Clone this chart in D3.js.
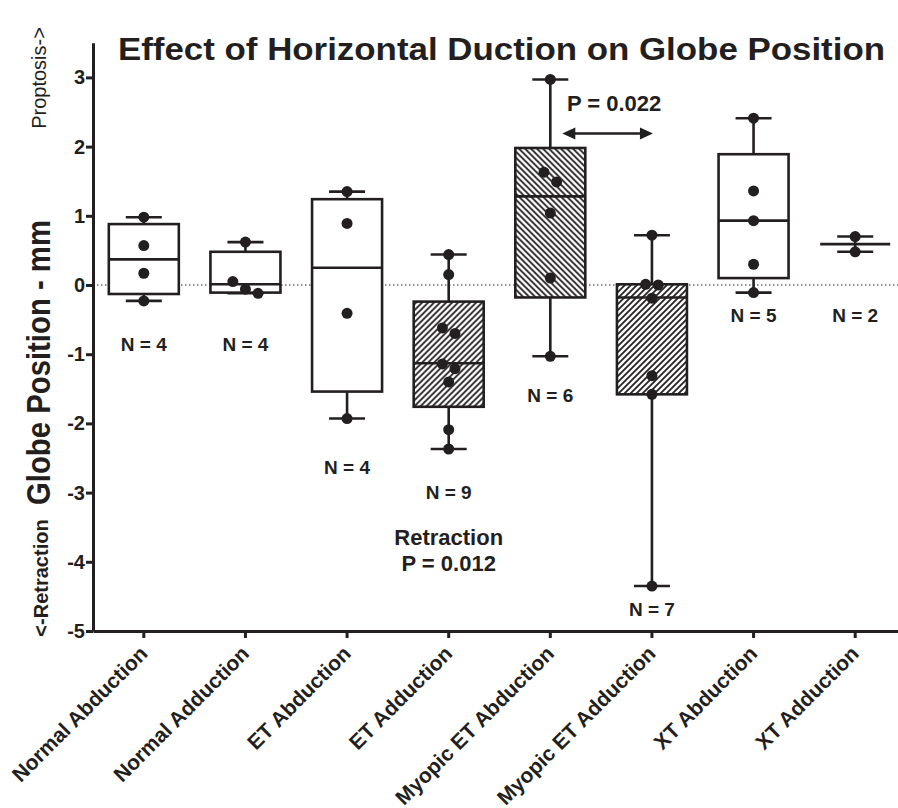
<!DOCTYPE html>
<html>
<head>
<meta charset="utf-8">
<script src="https://cdn.jsdelivr.net/npm/d3@7"></script>
<style>
  body { margin: 0; background: #fff; }
  text { font-family: "Liberation Sans", Arial, sans-serif; fill: #231f20; }
</style>
</head>
<body>
<div id="my_dataviz"></div>
<script>
// Data (mm)
var categories = ["Normal Abduction", "Normal Adduction", "ET Abduction", "ET Adduction",
                  "Myopic ET Abduction", "Myopic ET Adduction", "XT Abduction", "XT Adduction"];
var whiskerLow  = [-0.23, -0.12, -1.93, -2.37, -1.03, -4.35, -0.11, 0.48];
var q1          = [-0.13, -0.11, -1.54, -1.76, -0.18, -1.58,  0.10, 0.59];
var medians     = [ 0.37,  0.01,  0.25, -1.13,  1.28, -0.18,  0.93, 0.59];
var q3          = [ 0.88,  0.48,  1.24, -0.24,  1.98,  0.01,  1.89, 0.59];
var whiskerHigh = [ 0.98,  0.62,  1.35,  0.44,  2.97,  0.72,  2.41, 0.70];
var points = [
  [0.98, 0.57, 0.17, -0.23],
  [0.62, 0.05, -0.06, -0.12],
  [1.35, 0.89, -0.41, -1.93],
  [0.44, 0.15, -0.62, -0.70, -1.14, -1.21, -1.40, -2.09, -2.37],
  [2.97, 1.63, 1.49, 1.04, 0.10, -1.03],
  [0.72, 0.01, 0.00, -0.19, -1.31, -1.58, -4.35],
  [2.41, 1.36, 0.93, 0.30, -0.11],
  [0.70, 0.48]
];
var nCounts  = [4, 4, 4, 9, 6, 7, 5, 2];
var nLabelAt = [-0.95, -0.95, -2.73, -3.09, -1.69, -4.78, -0.53, -0.53];
var yTicks = [-5, -4, -3, -2, -1, 0, 1, 2, 3];

var width = 898, height = 808;
var ink = "#231f20";

var svg = d3.select("#my_dataviz")
  .append("svg")
    .attr("width", width)
    .attr("height", height);

// hatch patterns
var defs = svg.append("defs");
defs.append("pattern").attr("id", "fwd")
    .attr("patternUnits", "userSpaceOnUse").attr("width", 6).attr("height", 6)
  .call(function(p) {
    p.append("rect").attr("width", 6).attr("height", 6).attr("fill", "#fff");
    p.append("path").attr("d", "M-1,1 l2,-2 M0,6 l6,-6 M5,7 l2,-2")
      .attr("stroke", ink).attr("stroke-width", 1.8);
  });
defs.append("pattern").attr("id", "back")
    .attr("patternUnits", "userSpaceOnUse").attr("width", 6).attr("height", 6)
  .call(function(p) {
    p.append("rect").attr("width", 6).attr("height", 6).attr("fill", "#fff");
    p.append("path").attr("d", "M-1,5 l2,2 M0,0 l6,6 M5,-1 l2,2")
      .attr("stroke", ink).attr("stroke-width", 1.8);
  });
var hatchFor = { "ET Adduction": "fwd", "Myopic ET Abduction": "back", "Myopic ET Adduction": "fwd" };

// scales
var x = d3.scaleBand().domain(categories).range([93, 906]);
var y = d3.scaleLinear().domain([-5, 3.5]).range([631, 42.8]);
var boxW = 70, capW = 36, r = 5.5;

// zero reference line
svg.append("line")
  .attr("x1", 93).attr("x2", width)
  .attr("y1", y(0)).attr("y2", y(0))
  .attr("stroke", ink).attr("stroke-width", 1.2)
  .attr("stroke-dasharray", "1.5,2.5");

// boxes
var groups = svg.append("g").selectAll("g")
  .data(categories)
  .join("g")
    .attr("transform", function(d) { return "translate(" + (x(d) + x.bandwidth() / 2) + ",0)"; });

groups.append("line")   // whisker
  .attr("y1", function(d, i) { return y(whiskerLow[i]); })
  .attr("y2", function(d, i) { return y(whiskerHigh[i]); })
  .attr("stroke", ink).attr("stroke-width", 2.6);

groups.selectAll(".cap")
  .data(function(d, i) { return [whiskerLow[i], whiskerHigh[i]]; })
  .join("line").attr("class", "cap")
    .attr("x1", -capW / 2).attr("x2", capW / 2)
    .attr("y1", function(v) { return y(v); })
    .attr("y2", function(v) { return y(v); })
    .attr("stroke", ink).attr("stroke-width", 2.6);

groups.append("rect")
  .attr("x", -boxW / 2).attr("width", boxW)
  .attr("y", function(d, i) { return y(q3[i]); })
  .attr("height", function(d, i) { return y(q1[i]) - y(q3[i]); })
  .attr("fill", function(d) { return hatchFor[d] ? "url(#" + hatchFor[d] + ")" : "#fff"; })
  .attr("stroke", ink).attr("stroke-width", 2.6);

groups.append("line")   // median
  .attr("x1", -boxW / 2).attr("x2", boxW / 2)
  .attr("y1", function(d, i) { return y(medians[i]); })
  .attr("y2", function(d, i) { return y(medians[i]); })
  .attr("stroke", ink).attr("stroke-width", 2.6);

// spread points that sit close together
function spread(vals) {
  var sorted = vals.slice().sort(function(a, b) { return b - a; });
  var out = [], cluster = [];
  function flush() {
    cluster.forEach(function(v, k) {
      out.push({v: v, dx: (k - (cluster.length - 1) / 2) * 12.6});
    });
    cluster = [];
  }
  sorted.forEach(function(v) {
    if (cluster.length && Math.abs(y(v) - y(cluster[cluster.length - 1])) >= 2 * r) flush();
    cluster.push(v);
  });
  flush();
  return out;
}

groups.selectAll(".pt")
  .data(function(d, i) { return spread(points[i]); })
  .join("circle").attr("class", "pt")
    .attr("cx", function(p) { return p.dx; })
    .attr("cy", function(p) { return y(p.v); })
    .attr("r", r)
    .attr("fill", ink);

groups.append("text")
  .attr("y", function(d, i) { return y(nLabelAt[i]); })
  .attr("text-anchor", "middle")
  .style("font-size", "19px").style("font-weight", "bold")
  .text(function(d, i) { return "N = " + nCounts[i]; });

// axes
var yAxis = svg.append("g")
  .attr("transform", "translate(93,0)")
  .call(d3.axisLeft(y).tickValues(yTicks).tickFormat(function(d) { return String(d); })
    .tickSize(7).tickSizeOuter(0).tickPadding(1));
var xAxis = svg.append("g")
  .attr("transform", "translate(0,631)")
  .call(d3.axisBottom(x).tickSize(7).tickSizeOuter(0));

[yAxis, xAxis].forEach(function(a) {
  a.select(".domain").attr("stroke", ink).attr("stroke-width", 3);
  a.selectAll(".tick line").attr("stroke", ink).attr("stroke-width", 3);
  a.selectAll("text").attr("fill", ink).style("font-size", "20px").style("font-weight", "bold")
    .style("font-family", "'Liberation Sans', Arial, sans-serif");
});
xAxis.selectAll(".tick text")
  .attr("x", 0).attr("y", 0).attr("dy", 0)
  .attr("text-anchor", "end")
  .attr("transform", "translate(5,24) rotate(-45)")
  .style("font-size", "21px");

// titles and notes
svg.append("text")
  .attr("x", 118).attr("y", 60)
  .attr("textLength", 767).attr("lengthAdjust", "spacingAndGlyphs")
  .style("font-size", "31px").style("font-weight", "bold")
  .text("Effect of Horizontal Duction on Globe Position");

svg.append("text")
  .attr("transform", "translate(50,505) rotate(-90)")
  .attr("textLength", 285).attr("lengthAdjust", "spacingAndGlyphs")
  .style("font-size", "33px").style("font-weight", "bold")
  .text("Globe Position - mm");

svg.append("text")
  .attr("transform", "translate(46,78) rotate(-90)")
  .attr("text-anchor", "middle")
  .style("font-size", "20px")
  .text("Proptosis->");

svg.append("text")
  .attr("transform", "translate(48,578) rotate(-90)")
  .attr("text-anchor", "middle")
  .style("font-size", "20px").style("font-weight", "bold")
  .text("<-Retraction");

var midET = x("ET Adduction") + x.bandwidth() / 2;
svg.append("text")
  .attr("x", midET).attr("y", y(-3.76))
  .attr("text-anchor", "middle")
  .style("font-size", "22px").style("font-weight", "bold")
  .text("Retraction");
svg.append("text")
  .attr("x", midET).attr("y", y(-4.14))
  .attr("text-anchor", "middle")
  .style("font-size", "22px").style("font-weight", "bold")
  .text("P = 0.012");

// P = 0.022 between the myopic groups
var mA = x("Myopic ET Abduction") + x.bandwidth() / 2,
    mB = x("Myopic ET Adduction") + x.bandwidth() / 2;
svg.append("text")
  .attr("x", (mA + mB) / 2 + 13).attr("y", y(2.52))
  .attr("text-anchor", "middle")
  .style("font-size", "22px").style("font-weight", "bold")
  .text("P = 0.022");

var ay = y(2.19), ax1 = mA + 12, ax2 = mB + 1;
svg.append("line")
  .attr("x1", ax1 + 6).attr("x2", ax2 - 6).attr("y1", ay).attr("y2", ay)
  .attr("stroke", ink).attr("stroke-width", 2.6);
svg.append("path")
  .attr("d", "M" + ax1 + "," + ay + " l13,-6 l0,12 Z M" + ax2 + "," + ay + " l-13,-6 l0,12 Z")
  .attr("fill", ink);
</script>
</body>
</html>
